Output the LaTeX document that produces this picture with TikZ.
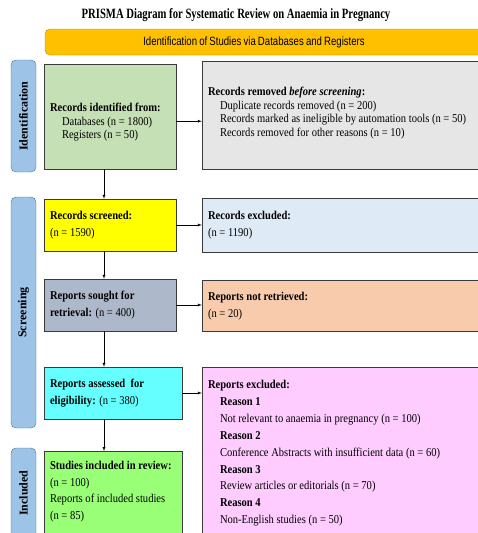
\documentclass[tikz,border=0pt]{standalone}
\usepackage{fontspec}
\setmainfont{Liberation Serif}[FakeStretch=0.88]
\newfontfamily\titlefont{Liberation Serif}[FakeStretch=0.75]
\newfontfamily\sidefont{Liberation Serif}
\newfontfamily\bannerfont{Liberation Sans}[FakeStretch=0.8, WordSpace=0.8]
\usepackage{xcolor}
\usetikzlibrary{positioning,shapes,arrows}

\definecolor{boxline}{HTML}{3A3A3A}
\definecolor{sidefill}{HTML}{9DC3E6}
\definecolor{sideline}{HTML}{41719C}
\definecolor{bannerfill}{HTML}{FFC000}
\definecolor{bannerline}{HTML}{BF9000}
\definecolor{idgreen}{HTML}{C5E0B4}
\definecolor{remgrey}{HTML}{E7E6E6}
\definecolor{scryellow}{HTML}{FFFF00}
\definecolor{exclblue}{HTML}{DEEBF7}
\definecolor{soughtgrey}{HTML}{ADB9CA}
\definecolor{notsalmon}{HTML}{F8CBAD}
\definecolor{asscyan}{HTML}{66FFFF}
\definecolor{reppink}{HTML}{FFCCFF}
\definecolor{incgreen}{HTML}{99FF77}

\begin{document}
\begin{tikzpicture}[x = 1pt, y = -1pt,
  box/.style = {draw = boxline, rectangle, align = flush left, inner xsep = 6pt,
    font = \fontsize{12}{16.5}\selectfont},
  side/.style = {draw = sideline, fill = sidefill, rounded corners = 5pt,
    rotate = 90, minimum height = 25pt, inner sep = 0pt,
    font = \sidefont\fontsize{12}{14}\selectfont\bfseries},
  line/.style = {draw = black, ->, >=latex}]
  \useasboundingbox (0, 0) rectangle (477, 533);

  \node[font = \titlefont\fontsize{14.2}{16}\selectfont\bfseries] (title) at (236, 15){
    PRISMA Diagram for Systematic Review on Anaemia in Pregnancy
  };

  \node[draw = bannerline, fill = bannerfill, rounded corners = 5pt,
    minimum width = 445pt, minimum height = 26pt,
    label = {[xshift = -13.5pt, font = \bannerfont\fontsize{12}{14}\selectfont]center:Identification of Studies via Databases and Registers}]
    (banner) at (267.5, 42){};

  % phases
  \node[side, minimum width = 112pt] (identification) at (23.5, 116){Identification};
  \node[side, minimum width = 231pt] (screening) at (23.5, 312.5){Screening};
  \node[side, minimum width = 90pt] (included) at (23.5, 493){Included};

  % left column
  \node[box, fill = idgreen, text width = 120pt, anchor = north, inner ysep = 3pt,
    text height = 44.5pt, text depth = 54.5pt, font = \fontsize{12}{13.5}\selectfont]
    (identified) at (110, 64){
    \textbf{Records identified from:}\\
    \hspace*{12pt}Databases (n = 1800)\\
    \hspace*{12pt}Registers (n = 50)
  };

  \node[box, fill = scryellow, text width = 120pt, minimum height = 52pt] (screened) at (110, 225){
    \textbf{Records screened:}\\
    (n = 1590)
  };

  \node[box, fill = soughtgrey, text width = 120pt, minimum height = 52pt] (sought) at (110, 305){
    \textbf{Reports sought for}\\
    \textbf{retrieval:} (n = 400)
  };

  \node[box, fill = asscyan, text width = 126pt, minimum height = 52pt] (assessed) at (113, 393){
    \textbf{Reports assessed\ \ for}\\
    \textbf{eligibility:} (n = 380)
  };

  \node[box, fill = incgreen, text width = 126pt, anchor = north, inner ysep = 10pt,
    text depth = 120pt] (studies) at (113, 451){
    \textbf{Studies included in review:}\\
    (n = 100)\\
    Reports of included studies\\
    (n = 85)
  };

  % right column
  \node[box, fill = remgrey, text width = 268pt, anchor = north, inner ysep = 3pt,
    text height = 31.5pt, text depth = 70.5pt, font = \fontsize{12}{13.5}\selectfont]
    (removed) at (342, 61){
    \textbf{Records removed \textit{before screening}:}\\
    \hspace*{12pt}Duplicate records removed (n = 200)\\
    \hspace*{12pt}Records marked as ineligible by automation tools (n = 50)\\
    \hspace*{12pt}Records removed for other reasons (n = 10)
  };

  \node[box, fill = exclblue, text width = 268pt, minimum height = 54pt] (excluded) at (342, 225){
    \textbf{Records excluded:}\\
    (n = 1190)
  };

  \node[box, fill = notsalmon, text width = 268pt, minimum height = 51pt] (notretrieved) at (342, 306){
    \textbf{Reports not retrieved:}\\
    (n = 20)
  };

  \node[box, fill = reppink, text width = 268pt, anchor = north, inner ysep = 13pt,
    text depth = 200pt, font = \fontsize{12}{16.9}\selectfont] (reportsexcl) at (342, 367){
    \textbf{Reports excluded:}\\
    \hspace*{12pt}\textbf{Reason 1}\\
    \hspace*{12pt}Not relevant to anaemia in pregnancy (n = 100)\\
    \hspace*{12pt}\textbf{Reason 2}\\
    \hspace*{12pt}Conference Abstracts with insufficient data (n = 60)\\
    \hspace*{12pt}\textbf{Reason 3}\\
    \hspace*{12pt}Review articles or editorials (n = 70)\\
    \hspace*{12pt}\textbf{Reason 4}\\
    \hspace*{12pt}Non-English studies (n = 50)
  };

  \coordinate (down) at (104, 0);

  \draw[line] (identified.south -| down) -- (screened.north -| down);
  \draw[line] (screened.south -| down) -- (sought.north -| down);
  \draw[line] (sought.south -| down) -- (assessed.north -| down);
  \draw[line] (assessed.south -| down) -- (studies.north -| down);

  \draw[line] ([yshift = -4.5pt]identified.east) -- ([yshift = -4.5pt]identified.east -| removed.west);
  \draw[line] (screened.east) -- (excluded.west);
  \draw[line] (sought.east) -- (sought.east -| notretrieved.west);
  \draw[line] (assessed.east) -- (assessed.east -| reportsexcl.west);
\end{tikzpicture}
\end{document}
